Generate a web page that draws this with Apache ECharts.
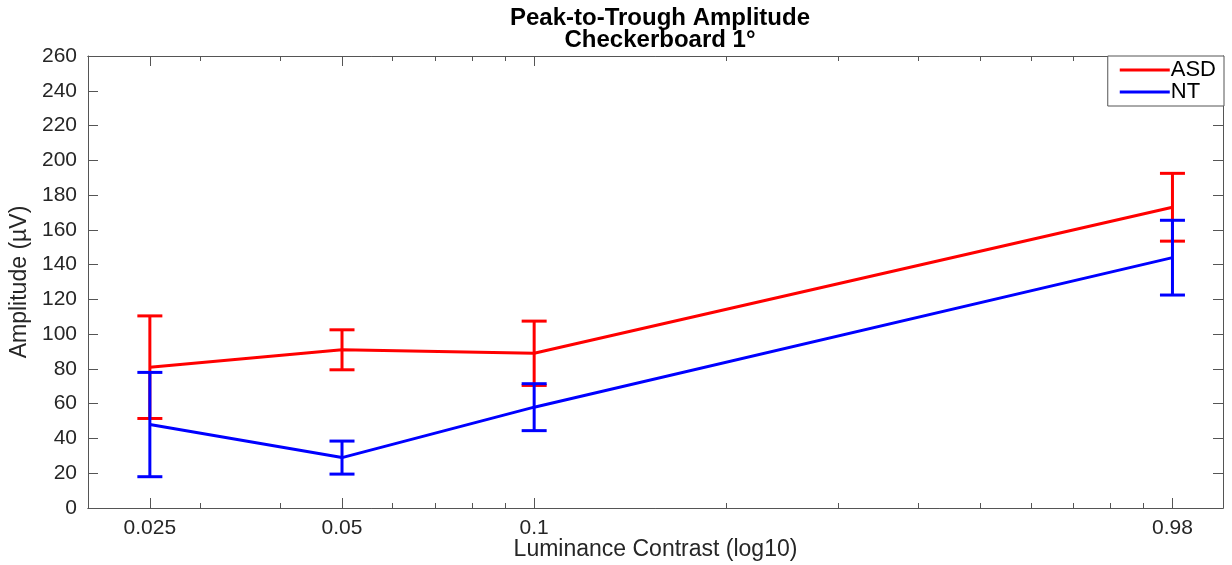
<!DOCTYPE html>
<html>
<head>
<meta charset="utf-8">
<script src="https://cdn.jsdelivr.net/npm/echarts@6.0.0/dist/echarts.min.js"></script>
<style>
  html, body { margin: 0; padding: 0; background: #fff; }
  #chart { width: 1232px; height: 565px; }
</style>
</head>
<body>
<div id="chart"></div>
<script>
"use strict";

// contrast levels (log10 x axis); the last tick sits at 1 but is labelled 0.98
var contrast = [0.025, 0.05, 0.1, 1];
var contrastLabels = ["0.025", "0.05", "0.1", "0.98"];
var minorTicks = [0.02, 0.03, 0.04, 0.05, 0.06, 0.07, 0.08, 0.09, 0.1,
  0.2, 0.3, 0.4, 0.5, 0.6, 0.7, 0.8, 0.9, 1];

// peak-to-trough amplitude (µV), mean and error
var asdMean = [81, 91, 89, 173];
var asdErr = [29.5, 11.5, 18.5, 19.5];
var ntMean = [48, 29, 58, 144];
var ntErr = [30, 9.5, 13.5, 21.5];

var textColor = "#262626";
var axisColor = "#555";
var font = "'Liberation Sans', Arial, sans-serif";

function lineData(means) {
  return contrast.map(function (x, i) { return [x, means[i]]; });
}
function errData(means, errs) {
  return contrast.map(function (x, i) { return [x, means[i] - errs[i], means[i] + errs[i]]; });
}

//误差棒: vertical line plus two caps
function errorBar(color) {
  return function (params, api) {
    var x = api.value(0);
    var lo = api.coord([x, api.value(1)]);
    var hi = api.coord([x, api.value(2)]);
    var half = 12.5;
    var style = { stroke: color, lineWidth: 3 };
    return {
      type: "group",
      children: [
        { type: "line", shape: { x1: lo[0], y1: lo[1], x2: hi[0], y2: hi[1] }, style: style },
        { type: "line", shape: { x1: lo[0] - half, y1: lo[1], x2: lo[0] + half, y2: lo[1] }, style: style },
        { type: "line", shape: { x1: hi[0] - half, y1: hi[1], x2: hi[0] + half, y2: hi[1] }, style: style }
      ]
    };
  };
}

function xAxisDef(position, ticks, len, withLabels) {
  var ax = {
    type: "log",
    logBase: 10,
    min: 0.02,
    max: 1.2,
    position: position,
    axisLine: { show: true, lineStyle: { color: axisColor, width: 1 } },
    axisTick: { show: true, inside: true, length: len, customValues: ticks, lineStyle: { color: axisColor } },
    axisLabel: { show: false },
    splitLine: { show: false },
    minorTick: { show: false }
  };
  if (withLabels) {
    ax.axisLabel = {
      show: true,
      customValues: contrast,
      margin: 10,
      color: textColor,
      fontSize: 21,
      fontFamily: font,
      formatter: function (v) {
        for (var i = 0; i < contrast.length; i++) {
          if (Math.abs(Math.log10(v / contrast[i])) < 0.005) return contrastLabels[i];
        }
        return "";
      }
    };
    ax.name = "Luminance Contrast (log10)";
    ax.nameLocation = "middle";
    ax.nameGap = 30;
    ax.nameMoveOverlap = false;
    ax.nameTextStyle = { color: textColor, fontSize: 23, fontFamily: font };
  }
  return ax;
}

function yAxisDef(position, withLabels) {
  var ax = {
    type: "value",
    min: 0,
    max: 260,
    interval: 20,
    position: position,
    axisLine: { show: true, lineStyle: { color: axisColor, width: 1 } },
    axisTick: { show: true, inside: true, length: 10, lineStyle: { color: axisColor } },
    axisLabel: { show: false },
    splitLine: { show: false }
  };
  if (withLabels) {
    ax.axisLabel = { show: true, margin: 11, color: textColor, fontSize: 21, fontFamily: font };
    ax.name = "Amplitude (µV)";
    ax.nameLocation = "middle";
    ax.nameGap = 57;
    ax.nameMoveOverlap = false;
    ax.nameTextStyle = { color: textColor, fontSize: 23, fontFamily: font };
  }
  return ax;
}

var myChart = echarts.init(document.getElementById("chart"));
var option = {
  animation: false,
  backgroundColor: "#fff",
  title: {
    text: "Peak-to-Trough Amplitude\nCheckerboard 1°",
    left: 655,
    top: 2,
    textAlign: "center",
    textStyle: { color: "#000", fontSize: 24, fontWeight: "bold", fontFamily: font, lineHeight: 22 }
  },
  legend: {
    orient: "vertical",
    right: 8,
    top: 56,
    data: ["ASD", "NT"],
    icon: "rect",
    itemWidth: 50,
    itemHeight: 3,
    itemGap: 0,
    padding: [3, 8, 3, 12],
    borderColor: axisColor,
    borderWidth: 1,
    backgroundColor: "#fff",
    textStyle: { color: "#000", fontSize: 22, fontFamily: font, lineHeight: 20, padding: [0, 0, 0, -4] }
  },
  grid: { left: 88, right: 9, top: 56, bottom: 57, containLabel: false, outerBoundsMode: "none" },
  xAxis: [
    xAxisDef("bottom", contrast, 10, true),
    xAxisDef("bottom", minorTicks, 5, false),
    xAxisDef("top", contrast, 10, false),
    xAxisDef("top", minorTicks, 5, false)
  ],
  yAxis: [yAxisDef("left", true), yAxisDef("right", false)],
  series: [
    {
      name: "ASD",
      type: "line",
      data: lineData(asdMean),
      showSymbol: false,
      symbol: "none",
      lineStyle: { color: "#ff0000", width: 3 },
      itemStyle: { color: "#ff0000" }
    },
    {
      name: "ASD error",
      type: "custom",
      renderItem: errorBar("#ff0000"),
      data: errData(asdMean, asdErr),
      encode: { x: 0, y: [1, 2] }
    },
    {
      name: "NT",
      type: "line",
      data: lineData(ntMean),
      showSymbol: false,
      symbol: "none",
      lineStyle: { color: "#0000ff", width: 3 },
      itemStyle: { color: "#0000ff" }
    },
    {
      name: "NT error",
      type: "custom",
      renderItem: errorBar("#0000ff"),
      data: errData(ntMean, ntErr),
      encode: { x: 0, y: [1, 2] }
    }
  ]
};
myChart.setOption(option);
</script>
</body>
</html>
